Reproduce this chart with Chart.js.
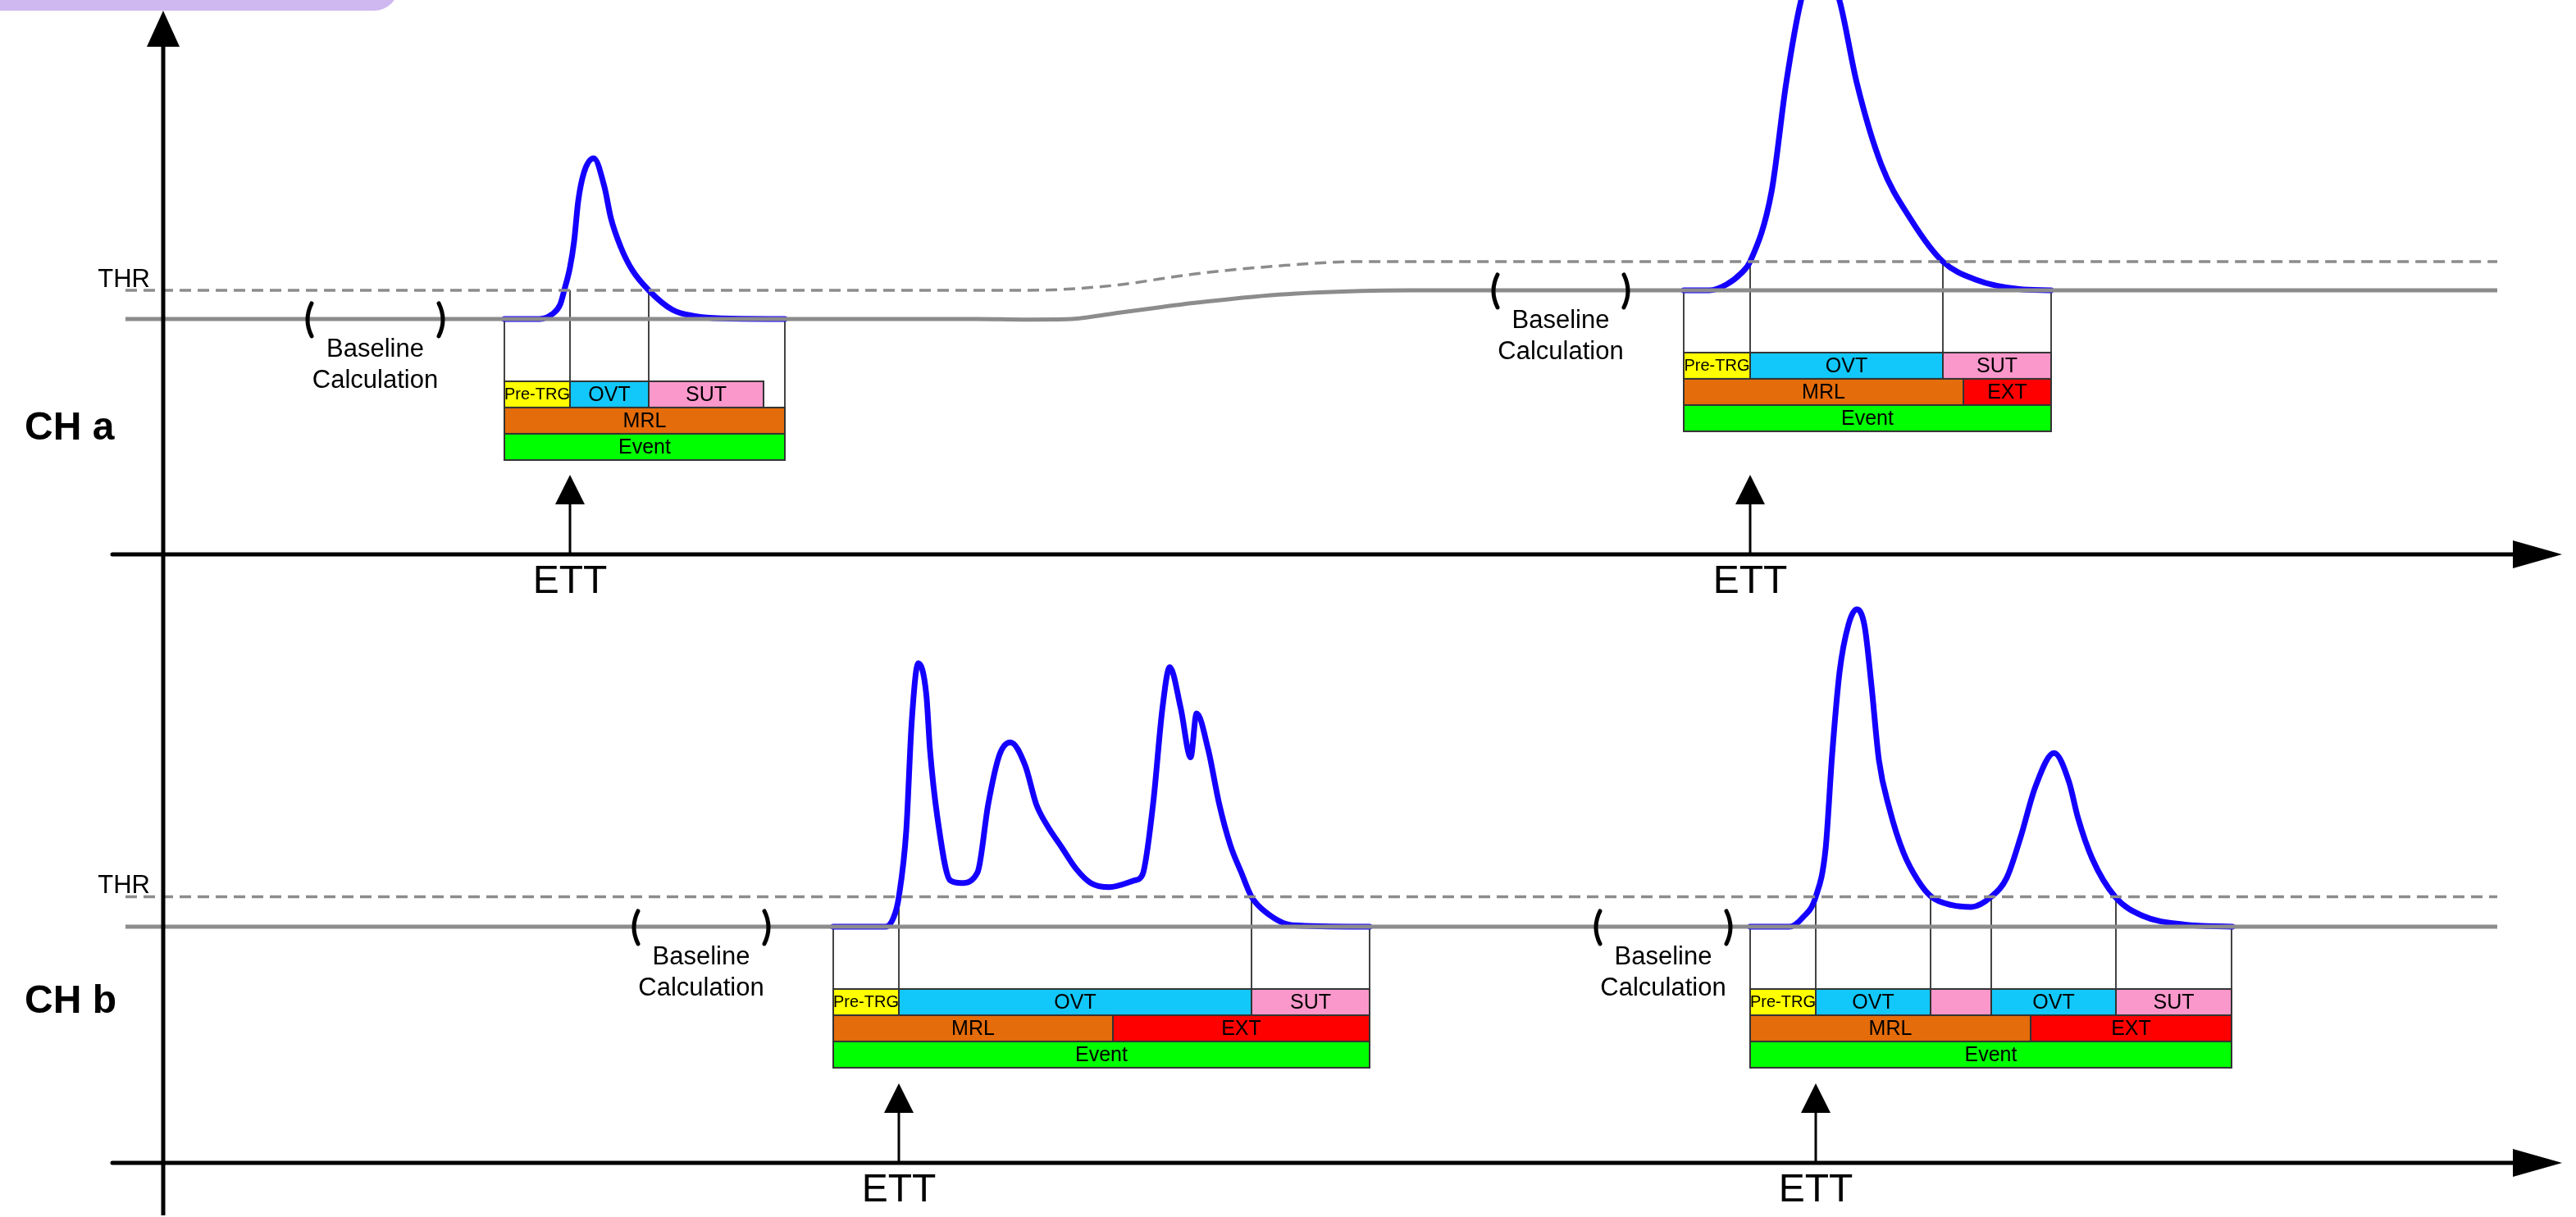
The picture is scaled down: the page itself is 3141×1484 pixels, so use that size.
<!DOCTYPE html>
<html>
<head>
<meta charset="utf-8">
<script src="https://cdn.jsdelivr.net/npm/chart.js@4.4.1/dist/chart.umd.min.js"></script>
<style>
  html, body { margin: 0; padding: 0; background: #fff; }
  canvas { display: block; }
</style>
</head>
<body>
<canvas id="chart" width="3141" height="1484"></canvas>
<script>
// ---- data: x = time (same units both channels), v = amplitude in THR steps ----

// CH a: drifting baseline and threshold
const aBaseT = [153, 1190, 1250, 1300, 1355, 1457, 1559, 1661, 1720, 3045];
const aBaseV = [0, 0, -0.02, -0.01, 0.18, 0.56, 0.85, 0.98, 1, 1];
const aThrT = [153, 1253, 1355, 1457, 1559, 1661, 3045];
const aThrV = [1, 1, 1.16, 1.57, 1.85, 2, 2];

// CH a signals
const aSig1T = [615, 658, 673, 683, 688, 695, 700, 705, 712, 724, 737, 745, 757, 771, 791, 820, 847, 880, 957];
const aSig1V = [0, 0, 0.16, 0.5, 1.0, 1.8, 2.7, 4.1, 5.1, 5.6, 4.6, 3.5, 2.5, 1.7, 1.0, 0.32, 0.1, 0.02, 0];
const aSig2T = [2053, 2084, 2105, 2123, 2134, 2160, 2178, 2196, 2218, 2243, 2264, 2294, 2330, 2369, 2409, 2462, 2501];
const aSig2V = [1, 1, 1.2, 1.59, 2.0, 4.42, 8.23, 11.09, 12.8, 11.09, 8.23, 5.37, 3.47, 2.0, 1.37, 1.04, 1];

// CH b: flat baseline and threshold
const bBaseT = [153, 3045];
const bBaseV = [0, 0];
const bThrT = [153, 3045];
const bThrV = [1, 1];

// CH b signals
const bSig1T = [1016, 1080, 1091.5, 1096, 1105, 1111.6, 1119.6, 1129.5, 1134, 1143, 1158.5, 1172, 1192, 1205,
  1218.8, 1232, 1250, 1263.4, 1276.8, 1294.6, 1312.5, 1330, 1352.7, 1384, 1393, 1406, 1417.4, 1426.3, 1439.7,
  1451.8, 1459, 1473, 1486.6, 1500, 1513.4, 1526, 1544.6, 1576, 1670];
const bSig1V = [0, 0, 0.45, 1.0, 3.2, 6.8, 8.8, 7.75, 5.9, 3.65, 1.55, 1.46, 1.82, 4.1,
  5.75, 6.16, 5.39, 4.1, 3.38, 2.65, 1.92, 1.46, 1.32, 1.55, 1.73, 4.1, 7.3, 8.67, 7.3,
  5.66, 7.12, 5.94, 4.1, 2.74, 1.82, 1.0, 0.46, 0.05, 0];
const bSig2T = [2134, 2182, 2198, 2214, 2226, 2234, 2243, 2254, 2264, 2273.5, 2282, 2291, 2304, 2321, 2338.5,
  2355, 2380, 2404, 2428, 2447, 2464, 2481.6, 2504.6, 2522.8, 2533.6, 2551, 2579, 2612, 2664, 2722];
const bSig2V = [0, 0, 0.3, 1.0, 2.6, 5.75, 8.5, 10.1, 10.6, 10.05, 8.04, 5.57, 3.93, 2.47, 1.55,
  1.0, 0.72, 0.66, 1.0, 1.64, 3.01, 4.66, 5.8, 4.84, 3.65, 2.28, 1.0, 0.37, 0.07, 0];

// event phases: [edges, labels] per row ("gap" = under-threshold, no text)
const aEv1Rows = [[[615, 695, 791, 931], ['Pre-TRG', 'OVT', 'SUT']], [[615, 957], ['MRL']], [[615, 957], ['Event']]];
const aEv2Rows = [[[2053, 2134, 2369, 2501], ['Pre-TRG', 'OVT', 'SUT']], [[2053, 2394, 2501], ['MRL', 'EXT']], [[2053, 2501], ['Event']]];
const bEv1Rows = [[[1016, 1096, 1526, 1670], ['Pre-TRG', 'OVT', 'SUT']], [[1016, 1357, 1670], ['MRL', 'EXT']], [[1016, 1670], ['Event']]];
const bEv2Rows = [[[2134, 2214, 2354, 2428, 2580, 2721], ['Pre-TRG', 'OVT', 'gap', 'OVT', 'SUT']], [[2134, 2476, 2721], ['MRL', 'EXT']], [[2134, 2721], ['Event']]];
const aEventBase = [0, 1];
const bEventBase = [0, 0];

// baseline calculation windows [start, end] and baseline level there
const aWindows = [[377, 538], [1823, 1983]];
const aWindowBase = [0, 1];
const bWindows = [[775, 935], [1948, 2108]];
const bWindowBase = [0, 0];

// ---- styles ----
const FONT = '"Liberation Sans", Arial, Helvetica, sans-serif';
const BOX_COLORS = {
  'Pre-TRG': '#ffff00', OVT: '#12c8fa', SUT: '#fb98cb', gap: '#fb98cb',
  MRL: '#e46c0a', EXT: '#ff0000', Event: '#00ff00'
};
const ROW_OFFSET = 76, ROW_H = 32;
const AXIS_A = 676, AXIS_B = 1418, Y_AXIS_X = 199;

const pts = (t, v) => t.map((x, i) => ({ x, y: v[i] }));

const grey = (t, v, axis) => ({ data: pts(t, v), yAxisID: axis, borderColor: '#8c8c8c', borderWidth: 5 });
const thr = (t, v, axis) => ({ data: pts(t, v), yAxisID: axis, borderColor: '#8c8c8c', borderWidth: 3.5, borderDash: [14, 8] });
const blue = (t, v, axis) => ({ data: pts(t, v), yAxisID: axis, borderColor: '#1400ff', borderWidth: 7, borderCapStyle: 'round', borderJoinStyle: 'round' });

function arrowHead(ctx, tipX, tipY, dir, len, half) {
  ctx.beginPath();
  if (dir === 'up') {
    ctx.moveTo(tipX, tipY);
    ctx.lineTo(tipX - half, tipY + len);
    ctx.lineTo(tipX + half, tipY + len);
  } else {
    ctx.moveTo(tipX, tipY);
    ctx.lineTo(tipX - len, tipY - half);
    ctx.lineTo(tipX - len, tipY + half);
  }
  ctx.closePath();
  ctx.fill();
}

// curved bracket, side = -1 for "(" and +1 for ")"
function bracket(ctx, x, y, side) {
  ctx.beginPath();
  ctx.moveTo(x - side * 3, y - 19);
  ctx.quadraticCurveTo(x + side * 7, y + 1, x - side * 3, y + 21);
  ctx.stroke();
}

const channels = [
  { y: 'yA', events: [aEv1Rows, aEv2Rows], base: aEventBase, windows: aWindows, wBase: aWindowBase, axisY: AXIS_A, name: 'CH a', nameY: 523 },
  { y: 'yB', events: [bEv1Rows, bEv2Rows], base: bEventBase, windows: bWindows, wBase: bWindowBase, axisY: AXIS_B, name: 'CH b', nameY: 1222 }
];

const diagram = {
  id: 'diagram',
  beforeDatasetsDraw(chart) {
    const ctx = chart.ctx, xs = chart.scales.x;
    ctx.save();
    // purple tab in the corner
    ctx.fillStyle = '#cfb8f0';
    ctx.beginPath();
    const r = 30, w = 486, h = 13;
    ctx.moveTo(0, -40);
    ctx.lineTo(w, -40);
    ctx.lineTo(w, h - r);
    ctx.arcTo(w, h, w - r, h, r);
    ctx.lineTo(0, h);
    ctx.closePath();
    ctx.fill();

    // connector lines from the signal levels down to the phase boxes
    ctx.strokeStyle = '#444';
    ctx.lineWidth = 2;
    channels.forEach(ch => {
      const ys = chart.scales[ch.y];
      ch.events.forEach((rows, k) => {
        const basePx = ys.getPixelForValue(ch.base[k]);
        const thrPx = ys.getPixelForValue(ch.base[k] + 1);
        const top = basePx + ROW_OFFSET;
        const e1 = rows[0][0];
        const end = rows[2][0][rows[2][0].length - 1];
        const vline = (t, y0, y1) => {
          const px = Math.round(xs.getPixelForValue(t));
          ctx.beginPath(); ctx.moveTo(px, y0); ctx.lineTo(px, y1); ctx.stroke();
        };
        vline(e1[0], basePx, top);
        for (let i = 1; i < e1.length - 1; i++) vline(e1[i], thrPx, top);
        if (e1[e1.length - 1] === end) vline(end, basePx, top);
        else vline(end, basePx, top + ROW_H);
      });
    });
    ctx.restore();
  },
  afterDatasetsDraw(chart) {
    const ctx = chart.ctx, xs = chart.scales.x;
    ctx.save();
    ctx.fillStyle = '#000';
    ctx.strokeStyle = '#000';

    // vertical axis
    ctx.lineWidth = 5;
    ctx.beginPath(); ctx.moveTo(Y_AXIS_X, 50); ctx.lineTo(Y_AXIS_X, 1482); ctx.stroke();
    arrowHead(ctx, Y_AXIS_X, 13, 'up', 44, 20);

    channels.forEach(ch => {
      const ys = chart.scales[ch.y];
      // time axis
      ctx.lineWidth = 5;
      ctx.lineCap = 'round';
      ctx.beginPath(); ctx.moveTo(137, ch.axisY); ctx.lineTo(3070, ch.axisY); ctx.stroke();
      ctx.lineCap = 'butt';
      arrowHead(ctx, 3124, ch.axisY, 'right', 60, 17);

      // channel name
      ctx.font = 'bold 48px ' + FONT;
      ctx.textAlign = 'left';
      ctx.textBaseline = 'middle';
      ctx.fillText(ch.name, 30, ch.nameY);

      // THR label
      ctx.font = '31px ' + FONT;
      ctx.textAlign = 'right';
      ctx.textBaseline = 'alphabetic';
      ctx.fillText('THR', 183, ys.getPixelForValue(1) - 4);

      // baseline calculation windows
      ch.windows.forEach((wnd, k) => {
        const bp = ys.getPixelForValue(ch.wBase[k]);
        const x0 = xs.getPixelForValue(wnd[0]), x1 = xs.getPixelForValue(wnd[1]);
        ctx.lineWidth = 5;
        ctx.lineCap = 'round';
        bracket(ctx, x0, bp, -1);
        bracket(ctx, x1, bp, 1);
        ctx.lineCap = 'butt';
        ctx.font = '31px ' + FONT;
        ctx.textAlign = 'center';
        ctx.textBaseline = 'middle';
        ctx.fillText('Baseline', (x0 + x1) / 2, bp + 37);
        ctx.fillText('Calculation', (x0 + x1) / 2, bp + 75);
      });

      // phase boxes, ETT arrows
      ch.events.forEach((rows, k) => {
        const basePx = ys.getPixelForValue(ch.base[k]);
        const top = basePx + ROW_OFFSET;
        rows.forEach(([edges, labels], r) => {
          const y0 = top + r * ROW_H;
          labels.forEach((lab, i) => {
            const x0 = xs.getPixelForValue(edges[i]), x1 = xs.getPixelForValue(edges[i + 1]);
            ctx.fillStyle = BOX_COLORS[lab];
            ctx.fillRect(x0, y0, x1 - x0, ROW_H);
            ctx.strokeStyle = '#333';
            ctx.lineWidth = 2;
            ctx.strokeRect(x0, y0, x1 - x0, ROW_H);
            if (lab !== 'gap') {
              ctx.fillStyle = '#000';
              ctx.font = (lab === 'Pre-TRG' ? '20px ' : '25px ') + FONT;
              ctx.textAlign = 'center';
              ctx.textBaseline = 'middle';
              ctx.fillText(lab, (x0 + x1) / 2, y0 + ROW_H / 2 + 1);
            }
          });
        });
        const ax = Math.round(xs.getPixelForValue(rows[0][0][1]));
        ctx.fillStyle = '#000';
        ctx.strokeStyle = '#000';
        ctx.lineWidth = 3;
        ctx.beginPath(); ctx.moveTo(ax, ch.axisY); ctx.lineTo(ax, ch.axisY - 66); ctx.stroke();
        arrowHead(ctx, ax, ch.axisY - 97, 'up', 36, 18);
        ctx.font = '48px ' + FONT;
        ctx.textAlign = 'center';
        ctx.textBaseline = 'middle';
        ctx.fillText('ETT', ax, ch.axisY + 34);
      });
    });
    ctx.restore();
  }
};

new Chart(document.getElementById('chart'), {
  type: 'line',
  data: {
    datasets: [
      grey(aBaseT, aBaseV, 'yA'),
      thr(aThrT, aThrV, 'yA'),
      grey(bBaseT, bBaseV, 'yB'),
      thr(bThrT, bThrV, 'yB'),
      blue(aSig1T, aSig1V, 'yA'),
      blue(aSig2T, aSig2V, 'yA'),
      blue(bSig1T, bSig1V, 'yB'),
      blue(bSig2T, bSig2V, 'yB')
    ]
  },
  options: {
    responsive: false,
    animation: false,
    devicePixelRatio: 1,
    events: [],
    layout: { padding: 0 },
    elements: {
      point: { radius: 0 },
      line: { fill: false, cubicInterpolationMode: 'monotone' }
    },
    plugins: { legend: { display: false }, tooltip: { enabled: false } },
    scales: {
      x: { type: 'linear', min: 0, max: 3141, display: false },
      yA: { type: 'linear', min: -31.29, max: 11.114, display: false },
      yB: { type: 'linear', min: -9.70, max: 30.96, display: false }
    }
  },
  plugins: [diagram]
});
</script>
</body>
</html>
